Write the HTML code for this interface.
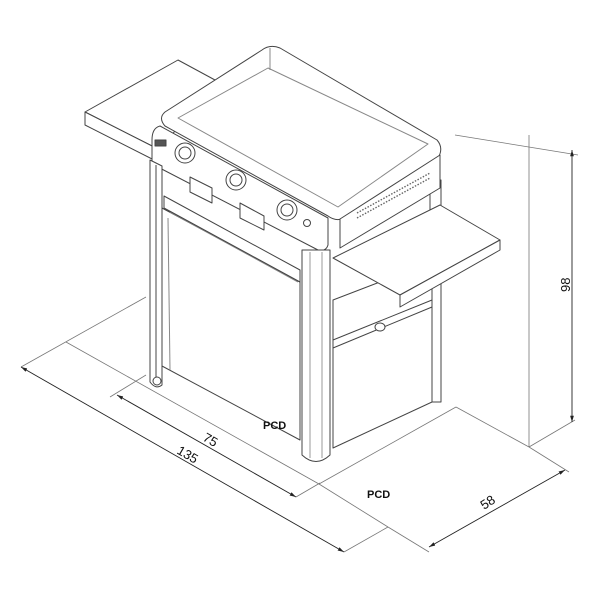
<!DOCTYPE html>
<html><head><meta charset="utf-8"><style>
html,body{margin:0;padding:0;background:#fff;}
svg{display:block;}
text{font-family:"Liberation Sans",sans-serif;fill:#111;}
</style></head><body>
<svg width="600" height="600" viewBox="0 0 600 600" xmlns="http://www.w3.org/2000/svg">
<defs>
<marker id="a" viewBox="0 0 10 10" refX="10" refY="5" markerWidth="7" markerHeight="7" orient="auto-start-reverse"><path d="M0,2 L10,5 L0,8 z" fill="#222"/></marker>
</defs>
<g fill="none" stroke="#777" stroke-width="0.8">
<!-- floor/extension lines -->
<line x1="146" y1="297" x2="21" y2="367"/>
<line x1="66" y1="342" x2="319" y2="484"/>
<line x1="319" y1="484" x2="388" y2="527"/>
<line x1="319" y1="484" x2="456" y2="407"/>
<line x1="456" y1="407" x2="529" y2="447"/>
<line x1="529" y1="447" x2="529" y2="135"/>
<line x1="529" y1="447" x2="575" y2="420"/>
<line x1="455" y1="135" x2="578" y2="155"/>
<line x1="529" y1="447" x2="569" y2="472"/>
<line x1="388" y1="527" x2="429" y2="552"/>
<line x1="388" y1="527" x2="344" y2="552"/>
<line x1="146" y1="375" x2="110" y2="397"/>
<line x1="296" y1="497" x2="320" y2="483"/>
</g>
<g stroke="#222" stroke-width="0.9" fill="none">
<line x1="21" y1="367" x2="344" y2="552" marker-start="url(#a)" marker-end="url(#a)"/>
<line x1="117" y1="395" x2="296" y2="497" marker-start="url(#a)" marker-end="url(#a)"/>
<line x1="429" y1="547" x2="565" y2="470" marker-start="url(#a)" marker-end="url(#a)"/>
<line x1="572" y1="150" x2="572" y2="422" marker-start="url(#a)" marker-end="url(#a)"/>
</g>
<g stroke="#444" stroke-width="1" fill="#fff" stroke-linejoin="round">
<!-- left shelf -->
<polygon points="85,112 178,60 215,80 160,150 85,112"/>
<polygon points="85,112 160,150 160,163 85,125"/>
<!-- back right leg -->
<rect x="430" y="180" width="11" height="222"/>
<!-- right side cabinet -->
<polygon points="333,300 432,262 432,402 333,448"/>
<line x1="333" y1="340" x2="432" y2="300"/>
<line x1="333" y1="348" x2="432" y2="307"/>
<ellipse cx="380" cy="327" rx="5" ry="4"/>
<!-- griddle tray -->
<path d="M165,112 L262,50 Q270,44 280,48 L437,140 Q444,148 438,158 L345,218 Q336,222 328,216 L165,126 Q158,118 165,112 Z"/>
<path d="M178,118 L268,68 L428,144 L338,207 Z" stroke="#888"/>
<line x1="270" y1="48" x2="270" y2="70" stroke="#888"/>
<!-- control panel -->
<path d="M160,126 L328,218 L328,245 Q326,252 318,250 L152,164 L152,140 Q152,128 160,126 Z"/>
<!-- right side of control -->
<path d="M340,219 L440,155 L440,188 L340,248 Z"/>
<!-- left leg -->
<path d="M150,160 L162,166 L162,385 Q156,390 150,382 Z"/>
<line x1="156" y1="165" x2="156" y2="384"/>
<!-- front door -->
<path d="M162,208 L300,282 L300,440 L162,366 Z"/>
<path d="M170,212 L298,282" stroke="#888"/>
<path d="M164,196 L300,270 L300,282 L164,208 Z"/>
<path d="M168,218 L170,370" stroke="#888"/>
<!-- right front leg -->
<path d="M302,250 L330,250 L330,455 Q316,468 302,455 Z"/>
<line x1="310" y1="252" x2="310" y2="458" stroke="#999"/>
<line x1="322" y1="252" x2="322" y2="458" stroke="#999"/>
<!-- handles -->
<path d="M190,177 L212,188 L212,203 L190,192 Z"/>
<path d="M240,203 L264,216 L264,230 L240,218 Z"/>
<!-- right shelf -->
<polygon points="333,258 440,205 500,240 400,295"/>
<polygon points="400,295 500,240 500,250 400,307"/>
<!-- knobs -->
<circle cx="185" cy="153" r="10"/><circle cx="185" cy="153" r="6"/>
<circle cx="236" cy="180" r="10"/><circle cx="236" cy="180" r="6"/>
<circle cx="287" cy="210" r="10"/><circle cx="287" cy="210" r="6"/>
<circle cx="307" cy="223" r="3.5"/>
<rect x="155" y="140" width="11" height="6" fill="#555"/>
<circle cx="157" cy="381" r="4"/>
</g>
<g stroke="#666" stroke-width="1.4" stroke-dasharray="1.5 1.5">
<line x1="357" y1="213" x2="430" y2="173"/>
<line x1="357" y1="218" x2="430" y2="178"/>
</g>
<g font-size="11" font-weight="bold">
<text x="263" y="429">PCD</text>
<text x="367" y="498">PCD</text>
</g>
<g font-size="13">
<text transform="translate(202,440) rotate(30)">75</text>
<text transform="translate(176,453) rotate(30)">135</text>
<text transform="translate(484,510) rotate(-33)">58</text>
<text transform="translate(570,292) rotate(-90)">98</text>
</g>
</svg>
</body></html>
